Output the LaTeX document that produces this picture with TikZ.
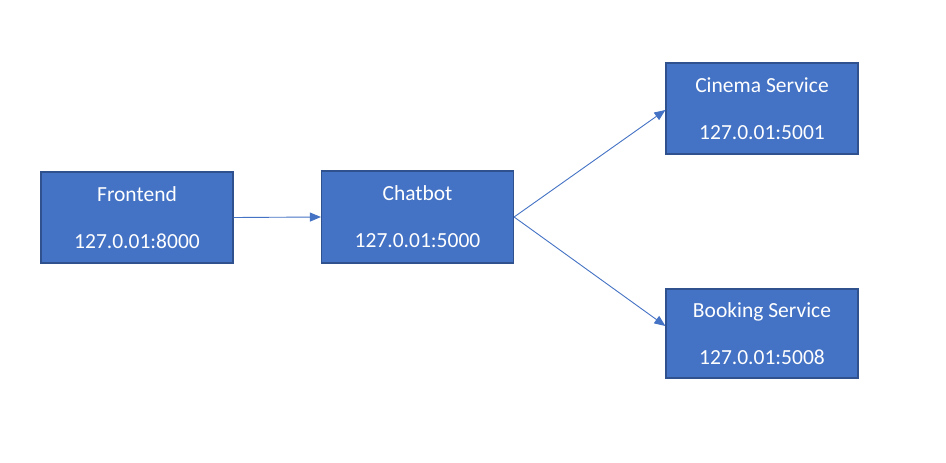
\documentclass[tikz,border=0pt]{standalone}
\usepackage{fontspec}
\setmainfont{Carlito}
\usetikzlibrary{arrows.meta}
\definecolor{boxfill}{HTML}{4472C4}
\definecolor{boxline}{HTML}{2F528F}
\begin{document}
\begin{tikzpicture}[x=1pt,y=-1pt,
  svc/.style={draw=boxline, line width=1.2pt, fill=boxfill, text=white,
    minimum width=192pt, inner sep=0pt, align=center,
    font=\fontsize{21.5}{26}\selectfont},
  link/.style={draw=boxfill, line width=0.9pt, -{Triangle[length=11pt,width=9pt]}}]
\useasboundingbox (0,0) rectangle (946,463);
\fill[white] (0,0) rectangle (946,463);
\node[svc, minimum height=91pt] (fe) at (137,217.5) {Frontend\\[21pt]127.0.01:8000};
\node[svc, minimum height=92pt] (cb) at (417.5,217) {Chatbot\\[21pt]127.0.01:5000};
\node[svc, minimum height=91pt] (cs) at (762,108.5) {Cinema Service\\[21pt]127.0.01:5001};
\node[svc, minimum height=89pt] (bs) at (762,333.5) {Booking Service\\[21pt]127.0.01:5008};
\draw[link] (fe.east) -- (cb.west);
\coordinate (cbout) at (cb.east);
\draw[link] (cbout) -- ([yshift=-1.5pt]cs.west);
\draw[link] (cbout) -- ([yshift=7.5pt]bs.west);
\end{tikzpicture}
\end{document}
